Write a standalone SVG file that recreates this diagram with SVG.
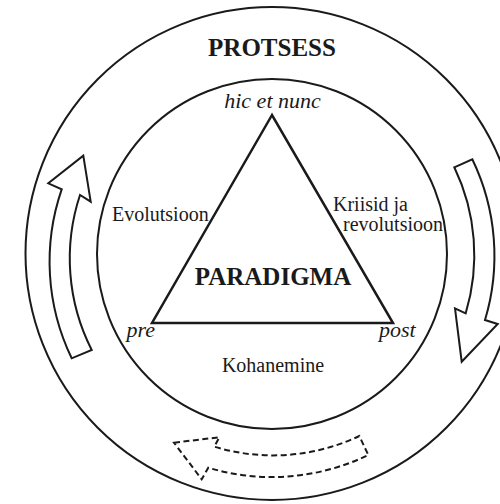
<svg xmlns="http://www.w3.org/2000/svg" width="500" height="504" viewBox="0 0 500 504">
<style>
.ln{fill:none;stroke:#1a1a1a;stroke-width:2}
.arw{fill:#fff;stroke:#1a1a1a;stroke-width:2;stroke-linejoin:miter}
.dash{fill:#fff;stroke:#1a1a1a;stroke-width:2;stroke-dasharray:6 3.5}
.t{font-family:"Liberation Serif","Times New Roman",serif;fill:#1a1a1a;font-size:20px}
.b{font-weight:bold;font-size:25px}
.i{font-style:italic;font-size:22px}
</style>
<rect width="500" height="504" fill="#fff"/>
<g id="outer-circle">
<circle class="ln" cx="272" cy="253.5" r="246.5"/>
<text class="t b" x="272" y="56" text-anchor="middle">PROTSESS</text>
</g>
<g id="inner-circle">
<circle class="ln" cx="272" cy="254" r="175"/>
<text class="t" x="273" y="372" text-anchor="middle">Kohanemine</text>
</g>
<g id="triangle">
<polygon class="ln" stroke-width="2.5" points="272,115 152,323 393,323" style="stroke-width:2.5"/>
<text class="t b" x="273" y="285" text-anchor="middle">PARADIGMA</text>
</g>
<g id="hic-et-nunc"><text class="t i" x="272.5" y="108" text-anchor="middle">hic et nunc</text></g>
<g id="pre"><text class="t i" x="126.5" y="337">pre</text></g>
<g id="post"><text class="t i" x="379" y="337">post</text></g>
<g id="evolutsioon"><text class="t" x="112" y="221">Evolutsioon</text></g>
<g id="kriisid"><text class="t" x="333" y="211">Kriisid ja</text><text class="t" x="343" y="231">revolutsioon</text></g>
<g id="connectors">
<path class="arw" d="M83.3,155.7 L90.7,201.7 L80,195 A202,202 0 0 0 91.7,350 L71.7,358.3 A222,222 0 0 1 61.7,189.3 L48.3,183.3 Z"/>
<path class="arw" d="M454.3,167.3 L472.3,159.3 A222,222 0 0 1 485,320 L497.7,324 L461.7,361.7 L455,308.3 L465.7,313.3 A202,202 0 0 0 454.3,167.3 Z"/>
<path class="dash" d="M174,442.7 L219.3,437.3 L214.3,446.7 A202,202 0 0 0 359.3,436 L368.3,455 A222,222 0 0 1 208.3,467.7 L201.7,479.3 Z"/>
</g>
</svg>
